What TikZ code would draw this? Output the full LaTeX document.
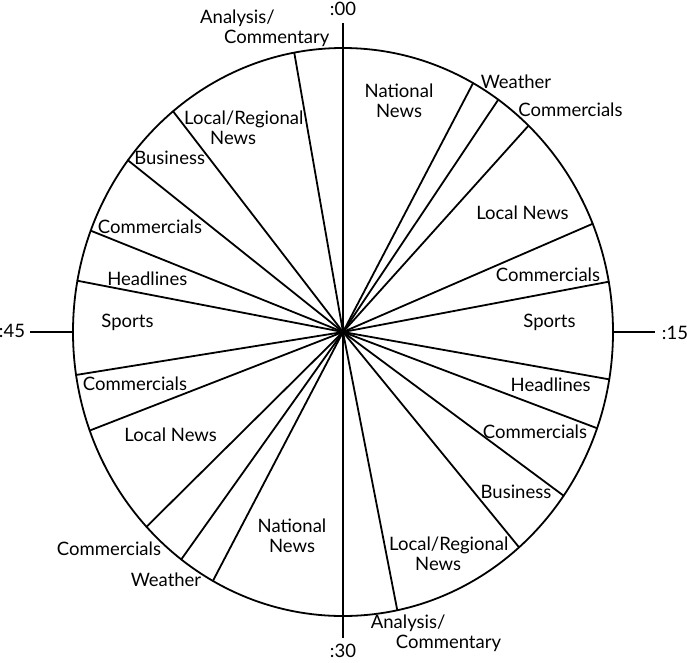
\documentclass[tikz,border=0pt]{standalone}
\usepackage{fontspec}
\setmainfont{Lato}
\usetikzlibrary{positioning}
\tikzset{
  seglabel/.style={font=\fontsize{18.5}{20}\selectfont, inner sep=0pt, align=center},
  blocklabel/.style={seglabel, align=left, anchor=west},
  spoke/.style={line width=1.8pt},
}

\begin{document}
\begin{tikzpicture}[x=1pt, y=1pt]
  \useasboundingbox (-343,-330) rectangle (344,332);
  % --- clock face ---
  \draw[spoke] (0,0) ellipse (270pt and 284pt);
  % --- hour line and quarter ticks ---
  \draw[spoke] (0,309) -- (0,-306);
  \draw[spoke] (-270,0) -- (-313,0);
  \draw[spoke] (270,0) -- (312,0);
  \node[seglabel] (q00) at (0,323)   {:00};
  \node[seglabel] (q15) at (332,-1)  {:15};
  \node[seglabel] (q30) at (0,-319)  {:30};
  \node[seglabel] (q45) at (-331,1)  {:45};
  % --- segment boundaries, drawn out from the centre ---
  \foreach \a in {61.2, 54.9, 46.6, 22.4, 10.2, -9.6, -19.8, -35.2, -49.3, -78.4,
                  241.2, 233.2, 223.3, 200.3, 188.7, 169.6, 159.1, 142.8, 129.0, 100.4}{
    \draw[spoke, line cap=round] (0,0) -- (\a:270pt and 284pt);
  }
  % --- first half hour ---
  \node[seglabel] (natA)  at (56,231.3)    {National\\News};
  \node[seglabel] (wthA)  at (173,250.3)   {Weather};
  \node[seglabel] (comA)  at (227.5,222.7) {Commercials};
  \node[seglabel] (locA)  at (179.5,119.7) {Local News};
  \node[seglabel] (comB)  at (205,57)      {Commercials};
  \node[seglabel] (spoA)  at (206.5,9.3)   {Sports};
  \node[seglabel] (hdlA)  at (207.7,-53)   {Headlines};
  \node[seglabel] (comC)  at (192,-99.7)   {Commercials};
  \node[seglabel] (busA)  at (173,-159.7)  {Business};
  \node[blocklabel] (regA) at (46,-221.3)  {Local/Regional\\\hspace*{26pt}News};
  \node[blocklabel] (anaA) at (27.7,-300.9) {Analysis/\\\hspace*{25pt}Commentary};
  % --- second half hour ---
  \node[seglabel] (natB)  at (-51,-204.2)  {National\\News};
  \node[seglabel] (wthB)  at (-177,-247.3) {Weather};
  \node[seglabel] (comD)  at (-234,-216.3) {Commercials};
  \node[seglabel] (locB)  at (-172.3,-103) {Local News};
  \node[seglabel] (comE)  at (-208,-51.3)  {Commercials};
  \node[seglabel] (spoB)  at (-215.5,9.3)  {Sports};
  \node[seglabel] (hdlB)  at (-195.7,53.7) {Headlines};
  \node[seglabel] (comF)  at (-193,105.3)  {Commercials};
  \node[seglabel] (busB)  at (-173.3,173.7) {Business};
  \node[blocklabel] (regB) at (-159,204.2) {Local/Regional\\\hspace*{26pt}News};
  \node[blocklabel] (anaB) at (-143,303.5) {Analysis/\\\hspace*{24pt}Commentary};
\end{tikzpicture}
\end{document}
